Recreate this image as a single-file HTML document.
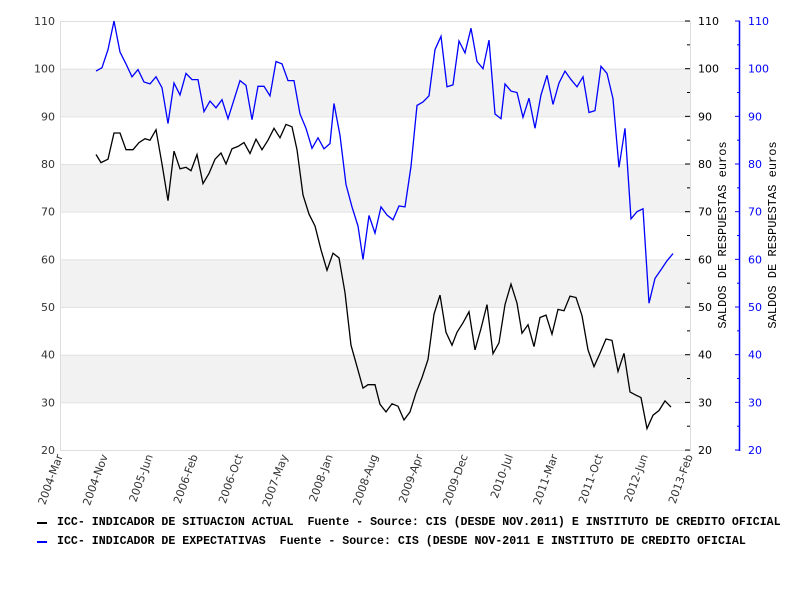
<!DOCTYPE html>
<html><head><meta charset="utf-8"><style>
body{margin:0;background:#fff;width:800px;height:600px;overflow:hidden}
svg{font-family:"DejaVu Sans","Liberation Sans",sans-serif}
</style></head><body>
<svg id="s" width="800" height="600" xmlns="http://www.w3.org/2000/svg">
<rect x="0" y="0" width="800" height="600" fill="#fff"/>
<g id="bands"></g>
<rect x="60.5" y="21.5" width="630" height="429" fill="none" stroke="#ddd"/>
<g id="ax"></g>
<polyline id="bl" fill="none" stroke="#000" stroke-width="1.3"/>
<polyline id="bu" fill="none" stroke="#00f" stroke-width="1.3"/>
<line x1="739.5" y1="21" x2="739.5" y2="451" stroke="#00f" stroke-width="1.5"/>
<text transform="translate(726,235) rotate(-90)" text-anchor="middle" font-family="Liberation Mono,monospace" font-size="12" fill="#000">SALDOS DE RESPUESTAS euros</text>
<text transform="translate(776,235) rotate(-90)" text-anchor="middle" font-family="Liberation Mono,monospace" font-size="12" fill="#000">SALDOS DE RESPUESTAS euros</text>
<line x1="37" y1="523" x2="47" y2="523" stroke="#000" stroke-width="2"/>
<line x1="37" y1="542" x2="47" y2="542" stroke="#00f" stroke-width="2"/>
<text x="57" y="525" font-family="Liberation Mono,monospace" font-weight="bold" font-size="11.6" xml:space="preserve" fill="#000">ICC- INDICADOR DE SITUACION ACTUAL  Fuente - Source: CIS (DESDE NOV.2011) E INSTITUTO DE CREDITO OFICIAL</text>
<text x="57" y="544" font-family="Liberation Mono,monospace" font-weight="bold" font-size="11.6" xml:space="preserve" fill="#000">ICC- INDICADOR DE EXPECTATIVAS  Fuente - Source: CIS (DESDE NOV-2011 E INSTITUTO DE CREDITO OFICIAL</text>
</svg>
<script>
var NS="http://www.w3.org/2000/svg";
function Y(v){return 21+(110-v)*4.767;}
function el(p,t,a,txt){var e=document.createElementNS(NS,t);for(var k in a)e.setAttribute(k,a[k]);if(txt!=null)e.textContent=txt;p.appendChild(e);return e;}
var bands=document.getElementById('bands'),ax=document.getElementById('ax');
[[100,90],[80,70],[60,50],[40,30]].forEach(function(b){el(bands,'rect',{x:61,y:Y(b[0]),width:629,height:Y(b[1])-Y(b[0]),fill:'#f2f2f2'});});
for(var v=20;v<=110;v+=10){
 el(bands,'line',{x1:61,x2:690,y1:Y(v)+0.5,y2:Y(v)+0.5,stroke:'#e2e2e2'});
 el(ax,'text',{x:55,y:Y(v)+4,'text-anchor':'end','font-size':11,fill:'#333'},v);
 el(ax,'text',{x:698,y:Y(v)+4,'font-size':11,fill:'#000'},v);
 el(ax,'text',{x:748,y:Y(v)+4,'font-size':11,fill:'#00f'},v);
 el(ax,'line',{x1:685,x2:690,y1:Y(v),y2:Y(v),stroke:'#000'});
 el(ax,'line',{x1:735,x2:740,y1:Y(v),y2:Y(v),stroke:'#00f'});
 if(v<110){el(ax,'line',{x1:687,x2:690,y1:Y(v+5),y2:Y(v+5),stroke:'#000'});
 el(ax,'line',{x1:737,x2:740,y1:Y(v+5),y2:Y(v+5),stroke:'#00f'});}
}
var labs=["2004-Mar","2004-Nov","2005-Jun","2006-Feb","2006-Oct","2007-May","2008-Jan","2008-Aug","2009-Apr","2009-Dec","2010-Jul","2011-Mar","2011-Oct","2012-Jun","2013-Feb"];
labs.forEach(function(l,i){var x=60+i*45;el(ax,'text',{transform:'translate('+(x+3)+',456) rotate(-70)','text-anchor':'end','font-size':11,fill:'#333'},l);});
var B=[96,82,101,80.3,108,81,114,86.5,120,86.5,126,83,133,83,139,84.5,145,85.3,150,85,156,87.2,162,80,168,72.3,174,82.7,180,79,186,79.3,191,78.6,197,82,203,75.9,209,78,215,81,221,82.3,226,80,232,83.2,238,83.7,244,84.5,250,82.2,256,85.2,262,83,268,85,274,87.5,280,85.5,286,88.3,292,87.8,297,83,303,73.5,309,69.5,315,67,321,62,327,57.7,333,61.3,339,60.3,345,53,351,42,357,37.5,363,33,368,33.7,375,33.7,380,29.6,386,28,392,29.7,398,29.2,404,26.3,410,28,416,32,422,35.2,428,39,434,48.5,440,52.5,446,44.7,452,42,457,44.7,463,46.7,469,49,475,41,481,45.5,487,50.5,493,40.2,499,42.5,505,50.5,511,54.8,517,50.8,522,44.5,528,46.3,534,41.7,540,47.8,546,48.3,552,44.3,558,49.5,564,49.2,570,52.3,576,52,582,48.2,588,41,594,37.5,600,40.3,606,43.3,612,43,618,36.5,624,40.3,630,32.2,636,31.5,641,31,647,24.5,653,27.3,659,28.3,665,30.3,671,29];
var U=[96,99.5,102,100.2,108,104,114,110,120,103.5,126,101,132,98.3,138,99.8,144,97.2,150,96.8,156,98.3,162,96,168,88.5,174,97,180,94.5,186,99,192,97.7,198,97.7,204,91,210,93.2,216,91.8,222,93.5,228,89.5,234,93.5,240,97.5,246,96.5,252,89.3,258,96.3,264,96.3,270,94.3,276,101.5,282,101,288,97.5,294,97.5,300,90.5,306,87.5,312,83.3,318,85.5,324,83.2,330,84.3,334,92.7,340,86,346,75.7,352,71,358,67,363,60,369,69.2,375,65.5,381,71,387,69.3,393,68.3,399,71.2,405,71,411,79.5,417,92.3,423,93,429,94.3,435,104,441,106.8,447,96.2,453,96.6,459,105.8,465,103.3,471,108.5,477,101.5,483,100,489,106,495,90.5,501,89.5,505,96.8,511,95.3,517,95,523,89.8,529,93.8,535,87.5,541,94.5,547,98.6,553,92.5,559,97,565,99.5,571,97.7,577,96.2,583,98.3,589,90.8,595,91.2,601,100.5,607,99,613,93.7,619,79.3,625,87.5,631,68.5,637,70,643,70.6,649,50.8,655,56,661,57.8,667,59.7,673,61.2];
function pts(a){var s=[];for(var i=0;i<a.length;i+=2)s.push(a[i]+','+Y(a[i+1]).toFixed(1));return s.join(' ');}
document.getElementById('bl').setAttribute('points',pts(B));
document.getElementById('bu').setAttribute('points',pts(U));
</script>
</body></html>
